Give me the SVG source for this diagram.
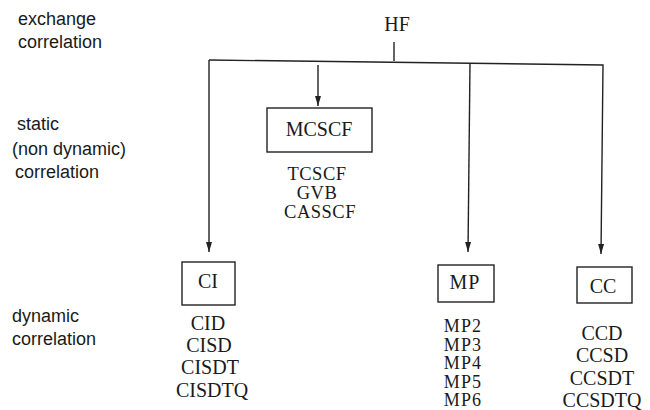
<svg xmlns="http://www.w3.org/2000/svg" width="650" height="410" viewBox="0 0 650 410">
<style>
  .lbl { font-family: "Liberation Sans", Arial, sans-serif; font-size: 18px; fill: #1a1a1a; }
  .nt { font-family: "Liberation Serif", "Times New Roman", serif; font-size: 20px; fill: #1a1a1a; text-anchor: middle; }
  .sm { font-size: 18.5px; }
  .xs { font-size: 18px; }
  .box { fill: #ffffff; stroke: #222; stroke-width: 1.4; }
  .ln { fill: none; stroke: #222; stroke-width: 1.4; }
</style>
<defs>
  <marker id="arr" markerUnits="userSpaceOnUse" markerWidth="11" markerHeight="7" refX="10" refY="3" orient="auto">
    <path d="M0,0 L10,3 L0,6 z" fill="#222"/>
  </marker>
</defs>
<rect width="650" height="410" fill="#ffffff"/>

<g id="levels">
  <text class="lbl" x="18" y="25">exchange</text>
  <text class="lbl" x="18" y="48">correlation</text>
  <text class="lbl" x="17" y="130">static</text>
  <text class="lbl" x="12" y="155">(non dynamic)</text>
  <text class="lbl" x="15" y="178">correlation</text>
  <text class="lbl" x="12" y="322">dynamic</text>
  <text class="lbl" x="12" y="345">correlation</text>
</g>

<g id="connectors">
  <line class="ln" x1="394" y1="42" x2="394" y2="61"/>
  <polyline class="ln" points="209,60 603,65 601,254" marker-end="url(#arr)"/>
  <line class="ln" x1="209" y1="60" x2="209" y2="252" marker-end="url(#arr)"/>
  <line class="ln" x1="470" y1="63" x2="468" y2="252" marker-end="url(#arr)"/>
  <line class="ln" x1="318" y1="65" x2="318" y2="106" marker-end="url(#arr)"/>
</g>

<g id="HF">
  <text class="nt" x="397" y="31">HF</text>
</g>

<g id="MCSCF">
  <rect class="box" x="267" y="108" width="105" height="44"/>
  <text class="nt" x="319" y="136">MCSCF</text>
  <text class="nt sm" x="317" y="180" letter-spacing="0.5">TCSCF</text>
  <text class="nt sm" x="317" y="199" letter-spacing="0.5">GVB</text>
  <text class="nt sm" x="320" y="218" letter-spacing="0.5">CASSCF</text>
</g>

<g id="CI">
  <rect class="box" x="182" y="262" width="53" height="43"/>
  <text class="nt" x="208" y="288">CI</text>
  <text class="nt" x="208" y="330">CID</text>
  <text class="nt" x="209" y="352">CISD</text>
  <text class="nt" x="210" y="374">CISDT</text>
  <text class="nt" x="212" y="397">CISDTQ</text>
</g>

<g id="MP">
  <rect class="box" x="438" y="265" width="56" height="37"/>
  <text class="nt" x="465" y="289" letter-spacing="1">MP</text>
  <text class="nt xs" x="463" y="332" letter-spacing="1.2">MP2</text>
  <text class="nt xs" x="463" y="350.5" letter-spacing="1.2">MP3</text>
  <text class="nt xs" x="463" y="369" letter-spacing="1.2">MP4</text>
  <text class="nt xs" x="463" y="387.5" letter-spacing="1.2">MP5</text>
  <text class="nt xs" x="463" y="406" letter-spacing="1.2">MP6</text>
</g>

<g id="CC">
  <rect class="box" x="577" y="267" width="55" height="36"/>
  <text class="nt" x="603" y="293">CC</text>
  <text class="nt" x="602" y="340">CCD</text>
  <text class="nt" x="602" y="362">CCSD</text>
  <text class="nt" x="602" y="385">CCSDT</text>
  <text class="nt" x="602" y="407">CCSDTQ</text>
</g>
</svg>
